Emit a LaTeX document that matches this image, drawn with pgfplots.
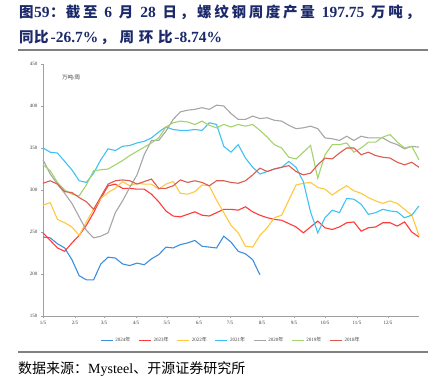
\documentclass[border=0pt]{standalone}
\usepackage{pgfplots}
\pgfplotsset{compat=1.18}
\usepackage{fontspec}
\setmainfont{Liberation Serif}
\newfontfamily\cjk{Noto Sans CJK SC}
\definecolor{ctitle}{HTML}{1C2A6B}
\definecolor{cA}{HTML}{3E8EDE}
\definecolor{cB}{HTML}{FF3B3B}
\definecolor{cC}{HTML}{FFC83D}
\definecolor{cD}{HTML}{3EC1F3}
\definecolor{cE}{HTML}{A6A6A6}
\definecolor{cF}{HTML}{A3D36B}
\definecolor{cG}{HTML}{DB5B4F}
\definecolor{axc}{HTML}{A0A0A0}
\newcommand\ct[1]{{\cjk\fontsize{14.5}{16}\selectfont #1}}
\newcommand\lt[1]{{\fontsize{15.5}{16}\selectfont #1}}
\newcommand\g{\hspace{0pt plus 1fill}}
\newcommand\h{\hspace{0pt plus 0.4fill}}
\newcommand\G{\hspace{0pt plus 2.5fill}}
\begin{document}
\begin{tikzpicture}[x=1pt,y=1pt]
\useasboundingbox (0,0) rectangle (439,387);
% title
\node[anchor=base west, inner sep=0pt, text=ctitle, font=\bfseries] at (19,369)
 {\makebox[401pt][s]{\ct{图}\kern0.5pt\lt{59}\kern0.5pt\ct{：}\h\ct{截}\g\ct{至}\G\lt{6}\G\ct{月}\G\lt{28}\G\ct{日}\g\ct{，}\g\ct{螺}\g\ct{纹}\g\ct{钢}\g\ct{周}\g\ct{度}\g\ct{产}\g\ct{量}\G\lt{197.75}\G\ct{万}\g\ct{吨}\g\ct{，}}};
\node[anchor=base west, inner sep=0pt, text=ctitle, font=\bfseries] at (19,344)
 {\makebox[203pt][s]{\ct{同}\kern0.5pt\ct{比}\h\lt{-26.7\%}\h\ct{，}\g\ct{周}\g\ct{环}\g\ct{比}\h\lt{-8.74\%}}};
\draw[color=gray, line width=1.5pt] (18,337) -- (428,337);
\draw[color=gray, line width=1.5pt] (18,35) -- (428,35);
\node[anchor=base west, inner sep=0pt, font=\fontsize{14}{16}\selectfont] at (18,13)
 {{\cjk 数据来源：}Mysteel{\cjk 、开源证券研究所}};
\begin{axis}[
  at={(43pt,71pt)}, anchor=south west,
  width=376pt, height=252pt, scale only axis,
  xmin=0, xmax=52, ymin=150, ymax=450,
  ytick={150,200,...,450},
  xtick={0,4.43,8.43,12.86,17.14,21.57,25.86,30.29,34.71,39,43.43,47.71},
  xticklabels={1/5,2/5,3/5,4/5,5/5,6/5,7/5,8/5,9/5,10/5,11/5,12/5},
  axis x line*=bottom, axis y line*=left,
  axis line style={axc, line width=0.9pt, -},
  tick style={axc, line width=0.6pt},
  tick align=outside, major tick length=2pt,
  tick label style={font=\fontsize{5}{6}\selectfont, text=black!75},
  /pgf/number format/assume math mode=true,
  legend columns=7,
  legend style={at={(0.5,-0.068)}, anchor=north, draw=none, fill=none,
    font=\fontsize{5}{6}\selectfont, text=black!75,
    /tikz/every even column/.append style={column sep=6pt}},
  legend cell align=left,
  legend image code/.code={\draw[line width=1.2pt] (0pt,0pt) -- (12pt,0pt);},
  every axis plot/.append style={line width=1.1pt, mark=none},
  clip=false,
]
\addplot[cA] coordinates {(0,244) (1,243) (2,236) (3,231) (4,217) (5,198) (6,193) (7,193) (8,212) (9,220) (10,219) (11,212) (12,210) (13,213) (14,211) (15,218) (16,223) (17,232) (18,231) (19,235) (20,237) (21,240) (22,233) (23,232) (24,231) (25,245) (26,238) (27,227) (28,224) (29,217) (30,199)};
\addlegendentry{2024{\cjk 年}}
\addplot[cB] coordinates {(0,249) (1,240) (2,231) (3,227) (4,237) (5,246) (6,258) (7,273) (8,290) (9,305) (10,307) (11,302) (12,302) (13,301) (14,301) (15,295) (16,286) (17,275) (18,269) (19,268) (20,271) (21,274) (22,270) (23,269) (24,273) (25,277) (26,277) (27,276) (28,280) (29,274) (30,270) (31,267) (32,265) (33,264) (34,260) (35,256) (36,249) (37,256) (38,263) (39,255) (40,253) (41,256) (42,261) (43,262) (44,251) (45,255) (46,256) (47,261) (48,261) (49,257) (50,262) (51,250) (52,244)};
\addlegendentry{2023{\cjk 年}}
\addplot[cC] coordinates {(0,282) (1,285) (2,265) (3,261) (4,256) (5,246) (6,262) (7,277) (8,290) (9,297) (10,302) (11,310) (12,305) (13,308) (14,307) (15,307) (16,301) (17,307) (18,310) (19,296) (20,295) (21,298) (22,306) (23,305) (24,288) (25,273) (26,258) (27,249) (28,233) (29,232) (30,246) (31,255) (32,267) (33,270) (34,288) (35,306) (36,308) (37,309) (38,303) (39,301) (40,294) (41,300) (42,305) (43,299) (44,296) (45,291) (46,287) (47,284) (48,287) (49,284) (50,277) (51,270) (52,246)};
\addlegendentry{2022{\cjk 年}}
\addplot[cD] coordinates {(0,350) (1,345) (2,344) (3,334) (4,324) (5,311) (6,309) (7,320) (8,336) (9,349) (10,347) (11,352) (12,353) (13,356) (14,358) (15,362) (16,369) (17,375) (18,372) (19,371) (20,371) (21,372) (22,371) (23,380) (24,378) (25,352) (26,345) (27,354) (28,338) (29,327) (30,319) (31,322) (32,325) (33,327) (34,334) (35,327) (36,310) (37,274) (38,249) (39,267) (40,276) (41,273) (42,290) (43,289) (44,283) (45,271) (46,273) (47,277) (48,275) (49,274) (50,267) (51,270) (52,281)};
\addlegendentry{2021{\cjk 年}}
\addplot[cE] coordinates {(0,336) (1,319) (2,307) (3,296) (4,284) (5,268) (6,252) (7,243) (8,245) (9,249) (10,273) (11,287) (12,303) (13,318) (14,342) (15,359) (16,359) (17,370) (18,384) (19,393) (20,395) (21,396) (22,398) (23,396) (24,401) (25,400) (26,391) (27,384) (28,384) (29,388) (30,385) (31,386) (32,383) (33,382) (34,377) (35,373) (36,374) (37,376) (38,373) (39,362) (40,361) (41,359) (42,364) (43,359) (44,364) (45,362) (46,362) (47,362) (48,357) (49,354) (50,349) (51,352) (52,351)};
\addlegendentry{2020{\cjk 年}}
\addplot[cF] coordinates {(0,330) (1,323) (2,309) (3,300) (4,295) (5,293) (6,306) (7,323) (8,324) (9,325) (10,330) (11,335) (12,341) (13,346) (14,351) (15,356) (16,362) (17,375) (18,380) (19,382) (20,381) (21,378) (22,382) (23,377) (24,374) (25,378) (26,375) (27,378) (28,376) (29,378) (30,371) (31,363) (32,354) (33,350) (34,339) (35,337) (36,345) (37,353) (38,314) (39,342) (40,354) (41,354) (42,356) (43,345) (44,350) (45,357) (46,357) (47,363) (48,366) (49,357) (50,350) (51,352) (52,336)};
\addlegendentry{2019{\cjk 年}}
\addplot[cG] coordinates {(0,308) (1,311) (2,307) (3,298) (4,297) (5,291) (6,286) (7,277) (8,292) (9,307) (10,311) (11,312) (12,311) (13,307) (14,310) (15,313) (16,302) (17,302) (18,305) (19,312) (20,309) (21,311) (22,309) (23,305) (24,311) (25,311) (26,309) (27,308) (28,311) (29,318) (30,326) (31,322) (32,325) (33,327) (34,329) (35,322) (36,318) (37,320) (38,330) (39,338) (40,337) (41,344) (42,350) (43,350) (44,342) (45,345) (46,341) (47,339) (48,338) (49,333) (50,330) (51,333) (52,327)};
\addlegendentry{2018{\cjk 年}}
\node[anchor=west, inner sep=0pt, font=\fontsize{5.5}{6}\selectfont, text=black!75] at (rel axis cs:0.05,0.948) {{\cjk 万吨}/{\cjk 周}};
\end{axis}
\end{tikzpicture}
\end{document}
